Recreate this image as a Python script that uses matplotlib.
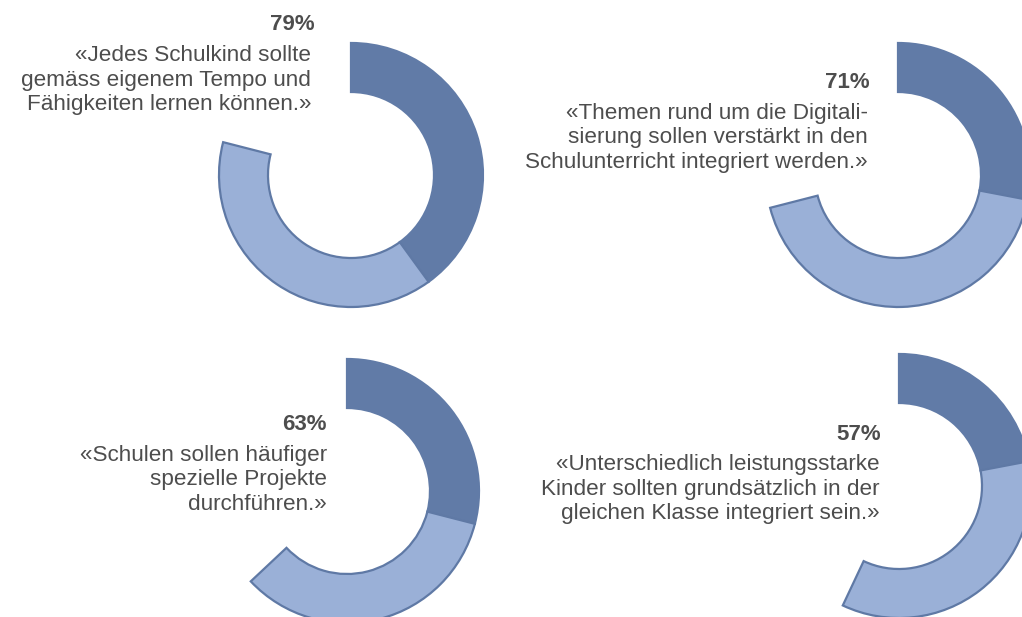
import numpy as np
import matplotlib
matplotlib.use("Agg")
import matplotlib.pyplot as plt

plt.rcParams['font.family'] = ['Liberation Sans', 'DejaVu Sans']

# data (share of full circle, in percent)
totals = [79, 71, 63, 57]
strong_agree = [40, 28, 29, 22]
rather_agree = [39, 43, 34, 35]
statements = [
    ["«Jedes Schulkind sollte", "gemäss eigenem Tempo und", "Fähigkeiten lernen können.»"],
    ["«Themen rund um die Digitali-", "sierung sollen verstärkt in den", "Schulunterricht integriert werden.»"],
    ["«Schulen sollen häufiger", "spezielle Projekte", "durchführen.»"],
    ["«Unterschiedlich leistungsstarke", "Kinder sollten grundsätzlich in der", "gleichen Klasse integriert sein.»"],
]

# layout in pixels (top-left origin)
W, H = 1022, 617
centers = [(351, 175), (898, 175), (347, 491), (899, 486)]
pct_pos = [(315, 30.5), (870, 88.3), (327, 430), (881, 439.5)]
line_x = [311, 868, 327, 880]
R_out, ring = 132, 49

dark = '#617ba7'
light = '#9ab0d7'
edge = '#5f79a5'
txt = '#4d4d4d'

fig = plt.figure(figsize=(W / 100, H / 100), dpi=100)
ax = fig.add_axes([0, 0, 1, 1])

for k in range(4):
    cx, cy = centers[k]
    gap = 100 - totals[k]
    wedges, _ = ax.pie([strong_agree[k], rather_agree[k], gap],
                       colors=[dark, light, 'white'],
                       startangle=90, counterclock=False,
                       radius=R_out, center=(cx, H - cy),
                       wedgeprops=dict(width=ring, edgecolor=edge, linewidth=1.6))
    wedges[0].set_edgecolor(dark)
    wedges[2].set_visible(False)

    tx, ty = pct_pos[k]
    ax.text(tx, H - ty, f"{totals[k]}%", ha='right', va='baseline',
            fontsize=16, fontweight='bold', color=txt)
    for i, line in enumerate(statements[k]):
        ax.text(line_x[k], H - (ty + 30.5 + i * 24.7), line, ha='right', va='baseline',
                fontsize=16.2, color=txt)

ax.set_xlim(0, W)
ax.set_ylim(0, H)
ax.set_aspect('equal')
ax.axis('off')

fig.savefig('out.png', dpi=100)
